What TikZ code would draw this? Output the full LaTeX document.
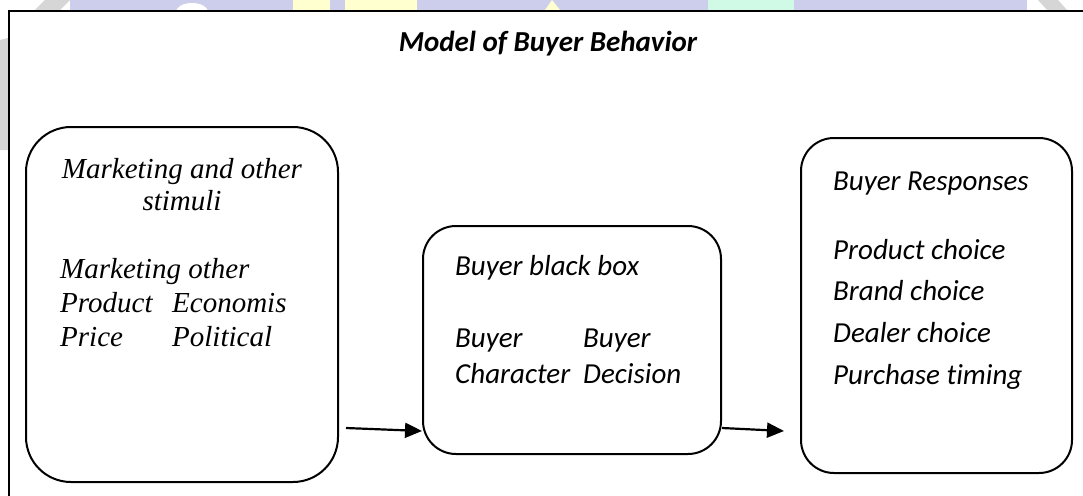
\documentclass[tikz,border=0pt]{standalone}
\usepackage{fontspec}
\setmainfont{Liberation Serif}
\newfontfamily\calibri[Ligatures={NoCommon}]{Carlito}
\usetikzlibrary{arrows.meta}
\definecolor{wmlav}{RGB}{205,206,236}
\definecolor{wmyel}{RGB}{255,255,208}
\definecolor{wmmint}{RGB}{208,250,230}
\definecolor{wmgray}{RGB}{214,214,214}
\tikzset{
  box/.style={draw=black, line width=2pt, fill=none, inner sep=0pt},
  tserif/.style={font=\fontsize{29}{34}\selectfont\itshape, inner sep=0pt, anchor=base west},
  tcal/.style={font=\calibri\fontsize{29}{34}\selectfont\itshape, inner sep=0pt, anchor=base west},
  titlestyle/.style={font=\calibri\fontsize{29}{34}\selectfont\bfseries\itshape, inner sep=0pt, anchor=base},
  arr/.style={line width=2.2pt, -{Triangle[length=17pt,width=15pt]}},
  frame/.style={line width=2pt, draw=black}
}
\begin{document}
\begin{tikzpicture}[x=1pt,y=-1pt]
\useasboundingbox (0,0) rectangle (1083,495);
% watermark fragments
\fill[wmlav] (70,0) rectangle (1027,10);
\fill[white] (192,12) ellipse (16 and 9);
\fill[wmyel] (293,0) rectangle (330,10);
\fill[wmyel] (345,0) rectangle (417,10);
\fill[wmyel] (545,10) -- (552,0) -- (560,10) -- cycle;
\fill[wmmint] (708,0) rectangle (794,10);
\fill[wmgray] (35,10) -- (45,0) -- (70,0) -- (60,10) -- cycle;
\fill[wmgray] (1038,0) -- (1058,0) -- (1067,10) -- (1047,10) -- cycle;
\fill[wmgray] (0,40) -- (8,38) -- (8,150) -- (0,150) -- cycle;
% outer frame
\draw[frame] (9,497) -- (9,11) -- (1085,11);
% title
\node[titlestyle] (title) at (548,52) {Model of Buyer Behavior};
% boxes
\node[box, rounded corners=45pt, minimum width=312pt, minimum height=355pt] (L) at (182,304.5) {};
\node[box, rounded corners=33pt, minimum width=298pt, minimum height=228pt] (M) at (572,340) {};
\node[box, rounded corners=33pt, minimum width=271pt, minimum height=335pt] (R) at (936.5,305.5) {};
% left box text
\node[tserif, anchor=base] (l1) at (182,178) {Marketing and other};
\node[tserif, anchor=base] (l2) at (182,210.7) {stimuli};
\node[tserif] (l3) at (60,278) {Marketing other};
\node[tserif] (l4) at (60,312) {Product};
\node[tserif] (l5) at (172,312) {Economis};
\node[tserif] (l6) at (60,346.7) {Price};
\node[tserif] (l7) at (172,346.7) {Political};
% middle box text
\node[tcal] (m1) at (455,275) {Buyer black box};
\node[tcal] (m2) at (455,347.7) {Buyer};
\node[tcal] (m3) at (583,347.7) {Buyer};
\node[tcal] (m4) at (455,383) {Character};
\node[tcal] (m5) at (583,383) {Decision};
% right box text
\node[tcal] (r1) at (833,190) {Buyer Responses};
\node[tcal] (r2) at (833,259) {Product choice};
\node[tcal] (r3) at (833,300) {Brand choice};
\node[tcal] (r4) at (833,342.7) {Dealer choice};
\node[tcal] (r5) at (833,384) {Purchase t\kern0pt iming};
% arrows
\coordinate (a1s) at ([xshift=7pt]L.east |- 0,428);
\coordinate (a1e) at (M.west |- 0,431);
\coordinate (a2s) at (M.east |- 0,428);
\coordinate (a2e) at (784,431);
\draw[arr] (a1s) -- (a1e);
\draw[arr] (a2s) -- (a2e);
\end{tikzpicture}
\end{document}
